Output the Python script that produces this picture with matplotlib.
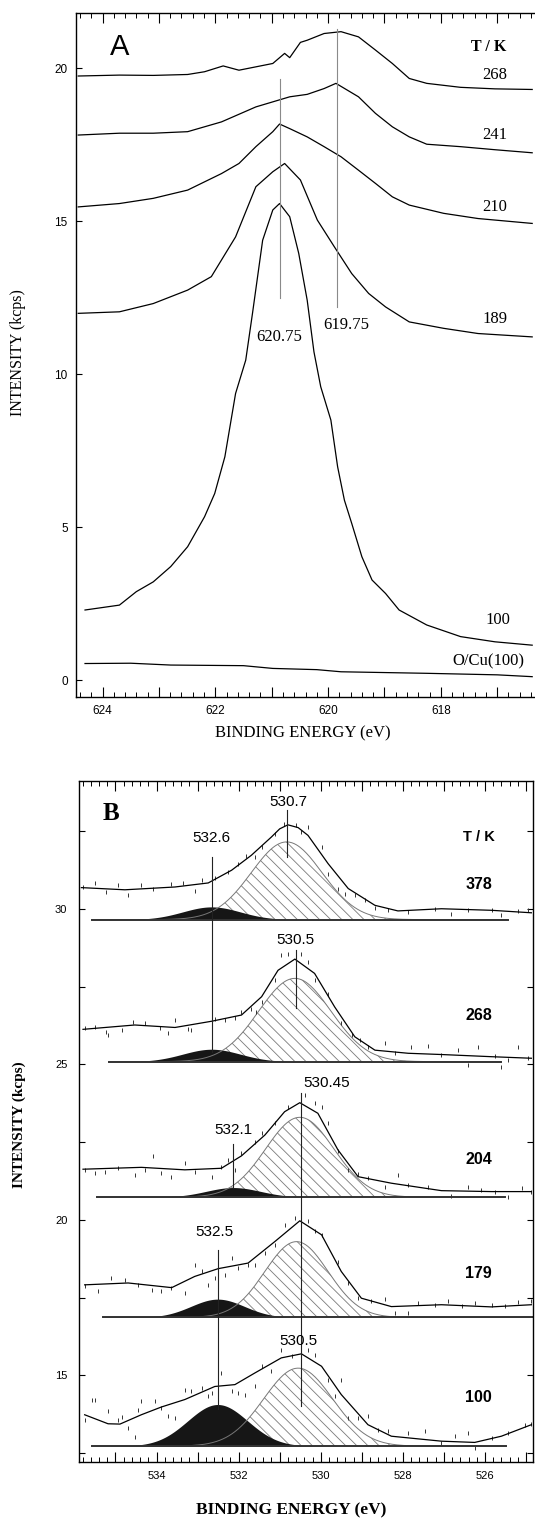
import numpy as np
import matplotlib.pyplot as plt
from matplotlib import font_manager
from matplotlib.ticker import MultipleLocator, FuncFormatter

names = {f.name for f in font_manager.fontManager.ttflist}
SERIF = 'Liberation Serif'
SANS = 'Liberation Sans'
NARROW = 'Liberation Sans Narrow' if 'Liberation Sans Narrow' in names else 'Liberation Sans'
plt.rcParams['hatch.linewidth'] = 0.6

# ---------------- Panel A : Cu 2p3/2 region ----------------
a_e_268 = [624.43, 623.70, 623.10, 622.49, 622.19, 621.86, 621.58, 621.28, 620.98, 620.77, 620.68,
           620.49, 620.37, 620.07, 619.77, 619.46, 619.16, 618.86, 618.56, 618.25, 617.65, 617.04, 616.38]
a_i_268 = [19.75, 19.78, 19.77, 19.80, 19.89, 20.08, 19.94, 20.05, 20.16, 20.49, 20.35,
           20.85, 20.92, 21.14, 21.20, 21.03, 20.60, 20.16, 19.67, 19.51, 19.38, 19.33, 19.31]

a_e_241 = [624.43, 623.70, 623.10, 622.49, 621.89, 621.28, 620.68, 620.37, 620.07, 619.86, 619.46,
           619.16, 618.86, 618.56, 618.25, 617.65, 617.04, 616.38]
a_i_241 = [17.82, 17.88, 17.88, 17.93, 18.25, 18.74, 19.07, 19.15, 19.34, 19.51, 19.07,
           18.53, 18.09, 17.76, 17.52, 17.44, 17.34, 17.24]

a_e_210 = [624.43, 623.70, 623.10, 622.49, 621.89, 621.58, 621.28, 620.98, 620.86, 620.68, 620.37,
           620.07, 619.77, 619.46, 619.16, 618.86, 618.56, 617.95, 617.34, 616.38]
a_i_210 = [15.47, 15.58, 15.75, 16.02, 16.56, 16.89, 17.44, 17.93, 18.18, 18.03, 17.76,
           17.44, 17.11, 16.67, 16.24, 15.80, 15.53, 15.26, 15.09, 14.93]

a_e_189 = [624.43, 623.70, 623.10, 622.49, 622.07, 621.64, 621.28, 620.98, 620.77, 620.49, 620.19,
           619.89, 619.58, 619.28, 618.98, 618.56, 617.95, 617.34, 616.38]
a_i_189 = [11.99, 12.04, 12.31, 12.75, 13.19, 14.49, 16.13, 16.62, 16.89, 16.35, 15.04,
           14.17, 13.29, 12.64, 12.20, 11.71, 11.50, 11.33, 11.22]

a_e_100 = [624.31, 623.70, 623.40, 623.10, 622.79, 622.49, 622.19, 622.01, 621.83, 621.64, 621.46,
           621.34, 621.16, 620.98, 620.86, 620.68, 620.52, 620.37, 620.25, 620.13, 619.95, 619.83,
           619.71, 619.58, 619.40, 619.22, 618.98, 618.74, 618.25, 617.65, 617.04, 616.38]
a_i_100 = [2.29, 2.45, 2.89, 3.21, 3.71, 4.36, 5.34, 6.10, 7.30, 9.37, 10.46,
           11.99, 14.38, 15.37, 15.58, 15.15, 13.95, 12.42, 10.73, 9.59, 8.50, 6.97,
           5.88, 5.12, 4.03, 3.27, 2.83, 2.29, 1.80, 1.42, 1.25, 1.14]

a_e_ocu = [624.31, 623.50, 622.79, 621.50, 620.98, 620.20, 619.77, 618.25, 617.00, 616.38]
a_i_ocu = [0.54, 0.55, 0.49, 0.47, 0.38, 0.34, 0.27, 0.22, 0.17, 0.11]

a_curves = [(a_e_268, a_i_268), (a_e_241, a_i_241), (a_e_210, a_i_210),
            (a_e_189, a_i_189), (a_e_100, a_i_100), (a_e_ocu, a_i_ocu)]
a_temps = ['268', '241', '210', '189', '100', 'O/Cu(100)']
a_temp_y = [19.78, 17.82, 15.47, 11.79, 1.96, 0.60]
a_temp_x = [617.04, 617.04, 617.04, 617.04, 616.98, 617.16]

a_peaks = [620.85, 619.84]
a_peak_labels = ['620.75', '619.75']
a_peak_lo = [12.48, 12.20]
a_peak_hi = [19.64, 21.30]
a_label_x = [620.86, 619.68]
a_label_y = [11.22, 11.61]

# ---------------- Panel B : O 1s region ----------------
b_temps = ['378', '268', '204', '179', '100']
b_base = [29.66, 25.09, 20.73, 16.86, 12.72]
b_base_lo = [535.58, 535.16, 535.46, 535.30, 535.58]
b_base_hi = [525.44, 525.60, 525.52, 524.83, 525.48]
b_oh_c = [532.66, 532.66, 532.13, 532.51, 532.51]
b_oh_h = [0.41, 0.40, 0.31, 0.59, 1.34]
b_oh_w = [0.70, 0.70, 0.66, 0.65, 0.73]
b_o_c = [530.83, 530.63, 530.51, 530.59, 530.55]
b_o_h = [2.50, 2.68, 2.57, 2.44, 2.51]
b_o_w = [0.86, 0.88, 0.83, 0.77, 0.84]

env_e_378 = [535.83, 534.77, 533.55, 532.74, 532.17, 531.69, 531.20, 531.00, 530.80, 530.55, 530.31,
             529.82, 529.33, 528.68, 528.12, 527.06, 525.84, 524.87]
env_i_378 = [30.69, 30.62, 30.71, 30.84, 31.25, 31.73, 32.32, 32.58, 32.71, 32.62, 32.37,
             31.46, 30.66, 30.12, 29.94, 30.01, 29.96, 29.88]
env_e_268 = [535.79, 534.53, 533.55, 532.66, 531.93, 531.44, 531.04, 530.63, 530.15, 529.66, 529.17,
             528.68, 527.87, 527.06, 525.84, 524.87]
env_i_268 = [26.13, 26.27, 26.19, 26.39, 26.59, 27.18, 28.03, 28.39, 27.93, 26.85, 25.89,
             25.46, 25.36, 25.32, 25.25, 25.20]
env_e_204 = [535.79, 534.37, 533.31, 532.42, 531.93, 531.36, 530.88, 530.51, 530.07, 529.58, 529.09,
             528.28, 527.06, 525.84, 524.87]
env_i_204 = [21.63, 21.69, 21.61, 21.66, 22.06, 22.73, 23.48, 23.77, 23.43, 22.25, 21.39,
             21.18, 20.94, 20.91, 20.91]
env_e_179 = [535.75, 534.69, 533.63, 533.07, 532.50, 531.77, 531.12, 530.51, 529.98, 529.50, 529.01,
             528.28, 527.06, 525.84, 524.87]
env_i_179 = [17.91, 17.97, 17.82, 18.18, 18.43, 18.61, 19.30, 19.97, 19.52, 18.34, 17.48,
             17.21, 17.27, 17.20, 17.27]
env_e_100 = [535.75, 535.18, 534.89, 534.37, 533.88, 533.31, 532.58, 532.09, 531.61, 530.96, 530.47,
             529.98, 529.50, 528.85, 528.28, 527.06, 526.25, 525.60, 524.87]
env_i_100 = [13.73, 13.44, 13.43, 13.73, 13.98, 14.22, 14.64, 14.70, 15.07, 15.56, 15.69,
             15.29, 14.38, 13.41, 13.04, 12.88, 12.84, 13.04, 13.41]
b_envs = [(env_e_378, env_i_378), (env_e_268, env_i_268), (env_e_204, env_i_204),
          (env_e_179, env_i_179), (env_e_100, env_i_100)]

pts_e_378 = [535.79, 535.50, 535.22, 534.93, 534.69, 534.37, 534.08, 533.64, 533.35, 533.07, 532.90,
             532.58, 532.26, 532.01, 531.81, 531.61, 531.44, 531.12, 530.90, 530.60, 530.47, 530.30,
             529.98, 529.82, 529.58, 529.41, 529.17, 528.93, 528.68, 528.36, 527.87, 527.22, 526.82,
             526.41, 525.84, 525.60, 525.19, 524.95]
pts_i_378 = [30.71, 30.84, 30.55, 30.79, 30.44, 30.79, 30.66, 30.82, 30.84, 30.57, 30.93,
             31.01, 31.19, 31.46, 31.70, 31.68, 32.00, 32.43, 32.75, 32.70, 32.48, 32.65,
             32.00, 31.14, 30.63, 30.50, 30.44, 30.28, 30.05, 29.96, 29.91, 30.00, 29.85,
             29.96, 29.98, 29.80, 29.94, 29.96]
pts_e_268 = [535.75, 535.50, 535.22, 535.18, 534.85, 534.57, 534.28, 533.92, 533.72, 533.55, 533.23,
             533.15, 532.58, 532.34, 532.10, 531.93, 531.69, 531.57, 531.44, 531.12, 530.96, 530.80,
             530.47, 530.31, 530.15, 529.82, 529.50, 529.25, 529.05, 528.85, 528.44, 528.20, 527.79,
             527.39, 527.06, 526.65, 526.41, 526.17, 525.76, 525.60, 525.44, 525.19, 524.95]
pts_i_268 = [26.16, 26.19, 26.05, 25.95, 26.10, 26.37, 26.32, 26.16, 26.02, 26.43, 26.13,
             26.10, 26.45, 26.43, 26.51, 26.70, 26.80, 26.70, 27.02, 27.71, 28.52, 28.57,
             28.55, 28.30, 27.71, 27.28, 26.32, 25.95, 25.78, 25.57, 25.68, 25.36, 25.55,
             25.59, 25.30, 25.46, 24.98, 25.57, 25.27, 24.93, 25.14, 25.57, 25.20]
pts_e_204 = [535.75, 535.50, 535.26, 534.93, 534.53, 534.28, 534.08, 533.88, 533.64, 533.31, 533.07,
             532.66, 532.42, 532.26, 532.10, 531.93, 531.61, 531.44, 531.12, 530.80, 530.39, 530.15,
             529.98, 529.82, 529.58, 529.33, 529.09, 528.85, 528.44, 528.12, 527.87, 527.39, 526.82,
             526.41, 526.09, 525.76, 525.44, 525.11, 524.87]
pts_i_204 = [21.61, 21.50, 21.55, 21.66, 21.45, 21.61, 22.06, 21.50, 21.39, 21.82, 21.55,
             21.39, 21.71, 21.93, 21.61, 22.14, 22.52, 22.78, 23.11, 23.64, 24.02, 23.75,
             23.64, 23.11, 22.20, 21.61, 21.48, 21.34, 21.07, 21.45, 21.12, 21.07, 20.77,
             21.07, 20.96, 20.91, 20.75, 21.02, 20.91]
pts_e_179 = [535.75, 535.42, 535.10, 534.77, 534.45, 534.12, 533.88, 533.64, 533.31, 533.07, 532.90,
             532.74, 532.58, 532.34, 532.17, 532.01, 531.77, 531.61, 531.36, 531.12, 530.88, 530.63,
             530.31, 530.15, 529.98, 529.58, 529.33, 529.09, 528.77, 528.44, 528.20, 527.87, 527.63,
             527.22, 526.90, 526.57, 526.25, 525.84, 525.52, 525.19, 524.87]
pts_i_179 = [17.86, 17.70, 18.13, 18.07, 17.91, 17.75, 17.70, 17.80, 17.64, 18.55, 18.34,
             17.91, 18.13, 18.23, 18.77, 18.45, 18.55, 18.55, 18.93, 19.20, 19.84, 20.05,
             19.95, 19.63, 19.52, 18.66, 17.96, 17.48, 17.38, 17.46, 17.00, 17.00, 17.32,
             17.27, 17.38, 17.22, 17.32, 17.27, 17.22, 17.35, 17.38]
pts_e_100 = [535.75, 535.58, 535.50, 535.18, 534.93, 534.85, 534.69, 534.53, 534.45, 534.37, 534.04,
             533.88, 533.72, 533.55, 533.31, 533.15, 532.90, 532.74, 532.66, 532.42, 532.17, 532.01,
             531.85, 531.61, 531.44, 531.20, 530.96, 530.71, 530.31, 530.15, 529.82, 529.66, 529.50,
             529.33, 529.09, 528.85, 528.60, 528.36, 527.87, 527.47, 527.06, 526.74, 526.41, 526.25,
             525.84, 525.44, 525.03, 524.87]
pts_i_100 = [13.57, 14.19, 14.19, 13.84, 13.57, 13.66, 13.30, 13.02, 13.89, 14.16, 14.16,
             13.95, 13.68, 13.63, 14.54, 14.48, 14.59, 14.32, 14.43, 15.07, 14.48, 14.43,
             14.38, 14.64, 15.29, 15.13, 15.82, 15.61, 15.82, 15.66, 14.86, 14.32, 14.86,
             13.63, 13.63, 13.68, 13.25, 13.20, 13.14, 13.20, 12.82, 13.06, 13.14, 12.66,
             12.98, 13.14, 13.41, 13.44]
b_pts = [(pts_e_378, pts_i_378), (pts_e_268, pts_i_268), (pts_e_204, pts_i_204),
         (pts_e_179, pts_i_179), (pts_e_100, pts_i_100)]

b_temp_y = [30.80, 26.56, 21.95, 18.29, 14.27]
b_vlines = [(532.66, 25.40, 31.69), (530.81, 31.69, 33.20), (530.61, 26.81, 28.69),
            (530.49, 14.00, 24.08), (532.13, 21.02, 22.44), (532.51, 13.90, 19.04)]
b_peak_labels = ['530.7', '532.6', '530.5', '530.45', '532.1', '532.5', '530.5']
b_peak_lx = [530.80, 532.67, 530.61, 529.86, 532.13, 532.58, 530.55]
b_peak_ly = [33.46, 32.28, 29.00, 24.41, 22.89, 19.60, 16.09]

fig = plt.figure(figsize=(5.35, 15.2), dpi=100)

# ---- Panel A ----
axA = fig.add_axes([76 / 535, 0.54164, 459 / 535, 0.45])
for (e, i) in a_curves:
    axA.plot(e, i, color='black', lw=0.9)
for x, lo, hi in zip(a_peaks, a_peak_lo, a_peak_hi):
    axA.plot([x, x], [lo, hi], color='#8a8a8a', lw=0.8)
for t, x, y in zip(a_peak_labels, a_label_x, a_label_y):
    axA.text(x, y, t, family=SERIF, fontsize=12, ha='center', va='center')
for t, x, y in zip(a_temps, a_temp_x, a_temp_y):
    axA.text(x, y, t, family=SERIF, fontsize=12, ha='center', va='center')
axA.text(617.16, 20.70, 'T / K', family=SERIF, fontsize=11.5, fontweight='bold', ha='center', va='center')
axA.text(623.70, 20.70, 'A', family=SANS, fontsize=21, ha='center', va='center')

axA.set_xlim(624.47, 616.33)
axA.set_ylim(-0.545, 21.82)
axA.spines['right'].set_visible(False)
axA.xaxis.set_major_locator(MultipleLocator(1))
axA.xaxis.set_minor_locator(MultipleLocator(0.2))
axA.xaxis.set_major_formatter(FuncFormatter(lambda v, p: f'{v:.0f}' if round(v) % 2 == 0 else ''))
axA.yaxis.set_major_locator(MultipleLocator(5))
axA.tick_params(axis='x', which='major', direction='in', top=True, length=7, width=0.8, pad=6)
axA.tick_params(axis='x', which='minor', direction='in', top=True, length=3.5, width=0.7)
axA.tick_params(axis='y', which='major', direction='in', right=False, length=4, width=0.8, pad=6)
for lab in axA.get_xticklabels() + axA.get_yticklabels():
    lab.set_family(NARROW)
    lab.set_fontsize(8.5)
for s in axA.spines.values():
    s.set_linewidth(1.0)

fig.text(303 / 535, 1 - 733.5 / 1520, 'BINDING ENERGY (eV)', family=SERIF, fontsize=12,
         ha='center', va='center')
fig.text(18 / 535, 1 - 353 / 1520, 'INTENSITY (kcps)', family=SERIF, fontsize=11.5,
         rotation=90, ha='center', va='center')

# ---- Panel B ----
axB = fig.add_axes([78.5 / 535, 0.03836, 454.5 / 535, 0.44803])
for k in range(len(b_temps)):
    e = np.linspace(b_base_hi[k], b_base_lo[k], 400)
    o_peak = b_base[k] + b_o_h[k] * np.exp(-0.5 * ((e - b_o_c[k]) / b_o_w[k]) ** 2)
    oh_peak = b_base[k] + b_oh_h[k] * np.exp(-0.5 * ((e - b_oh_c[k]) / b_oh_w[k]) ** 2)
    axB.fill_between(e, b_base[k], o_peak, facecolor='white', edgecolor='#7a7a7a',
                     hatch='\\\\\\', lw=0)
    axB.plot(e, o_peak, color='#777777', lw=0.7)
    axB.fill_between(e, b_base[k], oh_peak, color='#161616', lw=0)
    axB.plot([b_base_lo[k], b_base_hi[k]], [b_base[k], b_base[k]], color='#333333', lw=1.4)
    pe, pi = b_pts[k]
    axB.plot(pe, pi, ls='none', marker='|', ms=3.5, mew=0.7, color='#333333')
    ee, ei = b_envs[k]
    axB.plot(ee, ei, color='black', lw=0.9)
    axB.text(526.15, b_temp_y[k], b_temps[k], family=SANS, fontsize=11.5, fontweight='bold',
             ha='center', va='center')
for x, lo, hi in b_vlines:
    axB.plot([x, x], [lo, hi], color='#222222', lw=0.8)
for t, x, y in zip(b_peak_labels, b_peak_lx, b_peak_ly):
    axB.text(x, y, t, family=SANS, fontsize=11, ha='center', va='center')
axB.text(526.14, 32.33, 'T / K', family=SANS, fontsize=10.5, fontweight='bold', ha='center', va='center')
axB.text(535.11, 33.09, 'B', family=SERIF, fontsize=18, fontweight='bold', ha='center', va='center')

axB.set_xlim(535.90, 524.83)
axB.set_ylim(12.22, 34.13)
axB.xaxis.set_major_locator(MultipleLocator(1))
axB.xaxis.set_minor_locator(MultipleLocator(0.2))
axB.xaxis.set_major_formatter(FuncFormatter(lambda v, p: f'{v:.0f}' if round(v) % 2 == 0 else ''))
axB.yaxis.set_major_locator(MultipleLocator(5))
axB.yaxis.set_minor_locator(MultipleLocator(2.5))
axB.tick_params(axis='x', which='major', direction='in', top=True, length=7, width=0.8, pad=7)
axB.tick_params(axis='x', which='minor', direction='in', top=True, length=3.5, width=0.7)
axB.tick_params(axis='y', which='both', direction='in', right=True, length=4, width=0.8, pad=8)
for lab in axB.get_xticklabels() + axB.get_yticklabels():
    lab.set_family(NARROW)
    lab.set_fontsize(8)
for s in axB.spines.values():
    s.set_linewidth(1.0)

fig.text(291 / 535, 1 - 1510 / 1520, 'BINDING ENERGY (eV)', family=SERIF, fontsize=12.5,
         fontweight='bold', ha='center', va='center')
fig.text(19 / 535, 1 - 1125 / 1520, 'INTENSITY (kcps)', family=SERIF, fontsize=11,
         fontweight='bold', rotation=90, ha='center', va='center')

fig.savefig('out.png', dpi=100)
